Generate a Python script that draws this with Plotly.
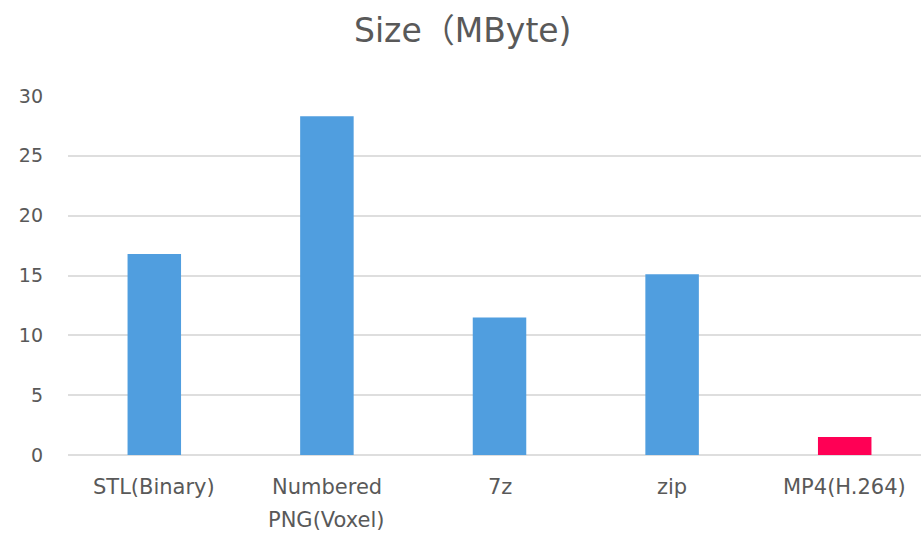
import plotly.graph_objects as go

# File formats compared and their sizes in MByte
categories = ["STL(Binary)", "Numbered PNG(Voxel)", "7z", "zip", "MP4(H.264)"]
label_line1 = ["STL(Binary)", "Numbered", "7z", "zip", "MP4(H.264)"]
label_line2 = ["", "PNG(Voxel)", "", "", ""]
sizes_mb = [16.8, 28.3, 11.5, 15.1, 1.5]
bar_colors = ["#509EDF", "#509EDF", "#509EDF", "#509EDF", "#FF0055"]
y_ticks = [0, 5, 10, 15, 20, 25, 30]

FONT = "DejaVu Sans, Noto Sans CJK JP, sans-serif"
TEXT = "#595959"

fig = go.Figure(
    go.Bar(
        x=list(range(len(categories))),
        y=sizes_mb,
        marker=dict(color=bar_colors, line=dict(width=0)),
        width=0.31,
        hovertext=categories,
    )
)

# Category labels drawn below the axis, one row per text line
for i, (l1, l2) in enumerate(zip(label_line1, label_line2)):
    fig.add_annotation(x=i, y=0, xref="x", yref="y", text=l1, showarrow=False,
                       yanchor="middle", yshift=-32,
                       font=dict(family=FONT, size=21, color=TEXT))
    if l2:
        fig.add_annotation(x=i, y=0, xref="x", yref="y", text=l2, showarrow=False,
                           yanchor="middle", yshift=-65,
                           font=dict(family=FONT, size=21, color=TEXT))

fig.update_layout(
    width=921,
    height=535,
    margin=dict(l=68, r=0, t=96, b=80),
    paper_bgcolor="white",
    plot_bgcolor="white",
    showlegend=False,
    title=dict(text="Size（MByte)", x=354 / 921, xanchor="left", xref="container",
               y=1 - 30 / 535, yanchor="middle",
               font=dict(family=FONT, size=33, color=TEXT)),
    font=dict(family=FONT, size=19, color=TEXT),
    xaxis=dict(range=[-0.5, 4.442], showticklabels=False, showgrid=False,
               zeroline=False, showline=False, ticks=""),
    yaxis=dict(range=[0, 30], tickvals=y_ticks, showgrid=True,
               gridcolor="#DEDEDE", gridwidth=2, zeroline=True,
               zerolinecolor="#DEDEDE", zerolinewidth=2, showline=False,
               ticks="", ticklabelstandoff=24,
               tickfont=dict(family=FONT, size=19, color=TEXT)),
)

fig.write_html("out.html")
